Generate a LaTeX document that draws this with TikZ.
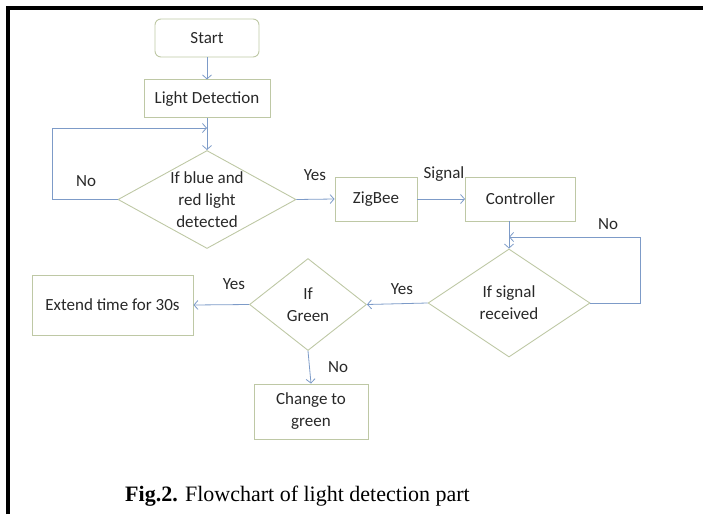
\documentclass[tikz,border=0pt]{standalone}
\usepackage{fontspec}
\setmainfont{Carlito}
\newfontfamily\capfont{Liberation Serif}
\usetikzlibrary{arrows.meta,shapes.geometric,positioning}
\definecolor{boxline}{RGB}{190,200,165}
\definecolor{arrowline}{RGB}{125,155,200}
\definecolor{txt}{RGB}{40,40,40}
\tikzset{
  box/.style={draw=boxline, line width=0.9pt, text=txt, align=center, inner sep=0pt},
  decision/.style={box, diamond},
  arr/.style={draw=arrowline, line width=0.8pt, -{Straight Barb[length=4pt,width=9pt]}},
  lbl/.style={text=txt, inner sep=0pt},
}

\begin{document}
\begin{tikzpicture}[x=1pt,y=-1pt,font=\fontsize{17}{22}\selectfont]
        \useasboundingbox (0,0) rectangle (703,514);
        \draw[line width=4pt] (8,514) -- (8,8) -- (703,8);
        \node[box, rounded corners=6pt, minimum width=104pt, minimum height=38pt] (start) at (207,38) {Start};
        \node[box, below=22pt of start, minimum width=126pt, minimum height=38pt] (ld) {Light Detection};
        \node[decision, aspect=1.8, inner ysep=-4pt, minimum width=178pt, minimum height=98pt] (d1) at (207,199.5) {If blue and\\red light\\detected};
        \node[box, minimum width=82pt, minimum height=44pt] (zig) at (376,199) {ZigBee};
        \node[box, minimum width=110pt, minimum height=44pt] (ctrl) at (520.5,199) {Controller};
        \node[decision, aspect=1.5, minimum width=162pt, minimum height=108pt] (d2) at (509,303) {If signal\\received};
        \node[decision, aspect=1.27, minimum width=117pt, minimum height=92pt] (d3) at (308,304.5) {If\\Green};
        \node[box, minimum width=161pt, minimum height=60pt] (ext) at (112.5,305) {Extend time for 30s};
        \node[box, minimum width=114pt, minimum height=55pt] (chg) at (311,411.5) {Change to\\green};
        \coordinate (l1) at (52,128);
        \coordinate (l2) at (640,237);
        \draw[arr] (start) -- (ld);
        \draw[arr] (ld) -- (d1);
        \draw[arr] (d1.west) -| (l1) -- (l1 -| d1.north);
        \draw[arr] (d1.east) -- (zig.west);
        \draw[arr] (zig.east) -- (ctrl.west);
        \draw[arr] (d2.north |- ctrl.south) -- (d2.north);
        \draw[arr] (d2.east) -| (l2) -- (l2 -| d2.north);
        \draw[arr] (d2.west) -- (d3.east);
        \draw[arr] (d3.west) -- (ext.east);
        \draw[arr] (d3.south) -- (chg.north);
        \node[lbl] (no1) at (86,181) {No};
        \node[lbl] (yes1) at (315,175) {Yes};
        \node[lbl] (sig) at (444,174) {Signal};
        \node[lbl] (no2) at (608,224) {No};
        \node[lbl] (yes2) at (402,289) {Yes};
        \node[lbl] (yes3) at (234,284) {Yes};
        \node[lbl] (no3) at (338,367) {No};
        \node[anchor=base west, inner sep=0pt, font=\capfont\fontsize{22}{26}\selectfont] (cap) at (125,501) {\textbf{Fig.2.} Flowchart of light detection part};
      \end{tikzpicture}
\end{document}
